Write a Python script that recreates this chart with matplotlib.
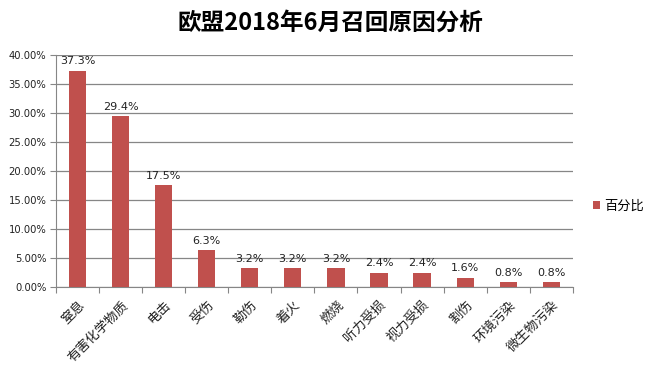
import matplotlib.pyplot as plt
import numpy as np

plt.rcParams['font.family'] = ['Noto Sans CJK SC', 'DejaVu Sans']

categories = ['窒息', '有害化学物质', '电击', '受伤', '勒伤', '着火', '燃烧',
              '听力受损', '视力受损', '割伤', '环境污染', '微生物污染']
values = [37.3, 29.4, 17.5, 6.3, 3.2, 3.2, 3.2, 2.4, 2.4, 1.6, 0.8, 0.8]
yticks = [0, 5, 10, 15, 20, 25, 30, 35, 40]

bar_color = '#C0504D'
grid_color = '#868686'

fig = plt.figure(figsize=(6.48, 3.73), dpi=100)
ax = fig.add_axes([0.0864, 0.2306, 0.7976, 0.6219])

x = np.arange(len(categories))
ax.bar(x, values, width=0.4, color=bar_color, zorder=3, label='百分比')

for xi, v in zip(x, values):
    ax.text(xi, v + 0.8, f'{v}%', ha='center', va='bottom', fontsize=8,
            family=['DejaVu Sans'], color='#222222', zorder=4)

ax.set_xlim(-0.5, len(categories) - 0.5)
ax.set_ylim(0, 40)
ax.set_yticks(yticks)
ax.set_yticklabels([f'{t:.2f}%' for t in yticks], fontsize=7.2,
                   family=['DejaVu Sans'], color='#222222')
ax.yaxis.grid(True, color=grid_color, linewidth=0.9, zorder=0)

# category boundaries as ticks
ax.set_xticks(np.arange(len(categories) + 1) - 0.5, minor=False)
ax.set_xticklabels([])
ax.tick_params(axis='x', length=4, color=grid_color, direction='out')
ax.tick_params(axis='y', length=4, color=grid_color, direction='out', pad=3)
for xi, c in zip(x, categories):
    ax.text(xi + 0.02, -2.0, c, rotation=45, ha='right', va='top',
            rotation_mode='anchor', fontsize=9.5, color='#222222')

for side in ['top', 'right']:
    ax.spines[side].set_visible(False)
ax.spines['left'].set_color(grid_color)
ax.spines['bottom'].set_color(grid_color)

fig.text(0.51, 0.94, '欧盟2018年6月召回原因分析', ha='center', va='center',
         fontsize=17, fontweight='bold')

fig.legend(loc='center left', bbox_to_anchor=(0.915, 0.447), frameon=False,
           fontsize=9.5, handlelength=0.55, handleheight=0.55, handletextpad=0.3,
           borderpad=0, borderaxespad=0)

fig.savefig('out.png', dpi=100)
